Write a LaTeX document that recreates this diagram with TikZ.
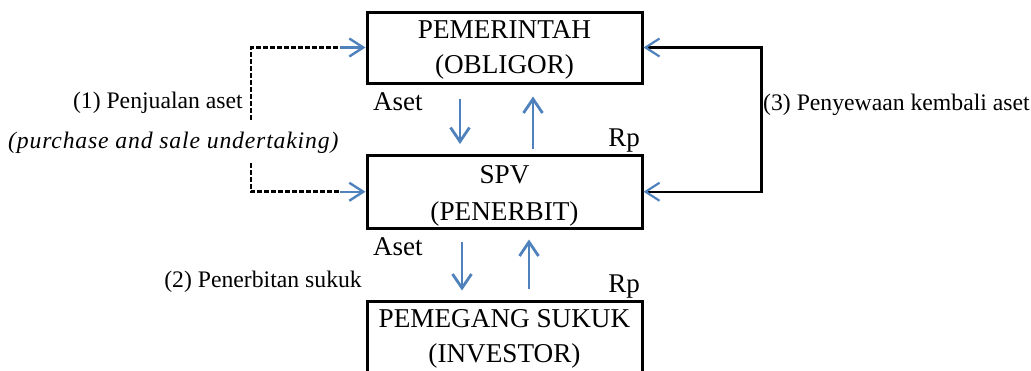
\documentclass[tikz,border=0pt]{standalone}
\usepackage{fontspec}
\setmainfont{Liberation Serif}
\usetikzlibrary{arrows.meta}
\definecolor{flowblue}{HTML}{4F81BD}
\tikzset{
  bluebarb/.tip={Straight Barb[length=14pt, width=18pt, color=flowblue]},
  party/.style={draw=black, line width=3pt, minimum width=275pt, inner sep=0pt},
  partyname/.style={inner sep=0pt, anchor=base, font=\fontsize{27.2}{30}\selectfont},
  lbl/.style={inner sep=0pt, font=\fontsize{23.7}{28}\selectfont},
  amt/.style={inner sep=0pt, font=\fontsize{27}{30}\selectfont},
  flow/.style={draw=flowblue, line width=2.8pt, -{Straight Barb[length=14pt, width=19pt]}},
  flowend/.style={draw=flowblue, line width=2.4pt, -{Straight Barb[length=14pt, width=18pt]}},
  saleline/.style={draw=black, line width=2.6pt, dash pattern=on 5pt off 2pt},
  leaseline/.style={draw=black, line width=2.2pt},
}
\begin{document}
\begin{tikzpicture}[x=1pt, y=-1pt]
\useasboundingbox (0,0) rectangle (1031,370);
\clip (0,0) rectangle (1031,370);

% the three parties
\node[party, minimum height=71pt] (gov) at (504.5,47.5) {};
\node[party, minimum height=72.5pt] (spv) at (504.5,191.75) {};
\node[party, minimum height=76pt] (inv) at (504.5,339) {};
\node[partyname] (govname) at ([yshift=-27.5pt]gov.north) {PEMERINTAH};
\node[partyname] (govrole) at ([yshift=-63pt]gov.north) {(OBLIGOR)};
\node[partyname] (spvname) at ([yshift=-29.5pt]spv.north) {SPV};
\node[partyname] (spvrole) at ([yshift=-66pt]spv.north) {(PENERBIT)};
\node[partyname] (invname) at ([yshift=-27.5pt]inv.north) {PEMEGANG SUKUK};
\node[partyname] (invrole) at ([yshift=-62.5pt]inv.north) {(INVESTOR)};

% (1) sale of the asset, with the purchase and sale undertaking
\coordinate (saletop) at (251,120);
\coordinate (salebot) at (251,163);
\coordinate (govin) at ([xshift=-26pt]gov.west);
\coordinate (spvin) at ([xshift=-26pt]spv.west);
\draw[saleline] (saletop) |- (govin);
\draw[saleline] (salebot) |- (spvin);
\draw[flowend] (govin) -- (gov.west);
\draw[flowend] (spvin) -- (spv.west);
\node[lbl, anchor=base east] (salelbl) at (243,108) {(1) Penjualan aset};
\node[lbl, anchor=base west, font=\fontsize{23.7}{28}\selectfont\itshape\addfontfeature{LetterSpace=3.5}] (undertaking) at (8,148) {(purchase and sale undertaking)};

% (3) lease back of the asset
\draw[leaseline, {bluebarb}-{bluebarb}] (gov.east) -- ++(118,0) |- (spv.east);
\node[lbl, anchor=base west] (leaselbl) at (763,110) {(3) Penyewaan kembali aset};

% asset and cash flows between government and SPV
\draw[flow, shorten <=14pt, shorten >=10pt] ([xshift=-44.5pt]gov.south) -- ([xshift=-44.5pt]spv.north);
\draw[flow, shorten <=5pt, shorten >=12pt] ([xshift=28.5pt]spv.north) -- ([xshift=28.5pt]gov.south);
\node[amt, anchor=base west] (aset1) at (373,110) {Aset};
\node[amt, anchor=base east] (rp1) at (640,146) {Rp};

% (2) issuance of the sukuk between SPV and investors
\draw[flow, shorten <=12pt, shorten >=9pt] ([xshift=-42.5pt]spv.south) -- ([xshift=-42.5pt]inv.north);
\draw[flow, shorten <=11pt, shorten >=10pt] ([xshift=24.5pt]inv.north) -- ([xshift=24.5pt]spv.south);
\node[amt, anchor=base west] (aset2) at (373,255) {Aset};
\node[amt, anchor=base east] (rp2) at (640,292) {Rp};
\node[lbl, anchor=base east] (issuelbl) at (362,287) {(2) Penerbitan sukuk};
\end{tikzpicture}
\end{document}
